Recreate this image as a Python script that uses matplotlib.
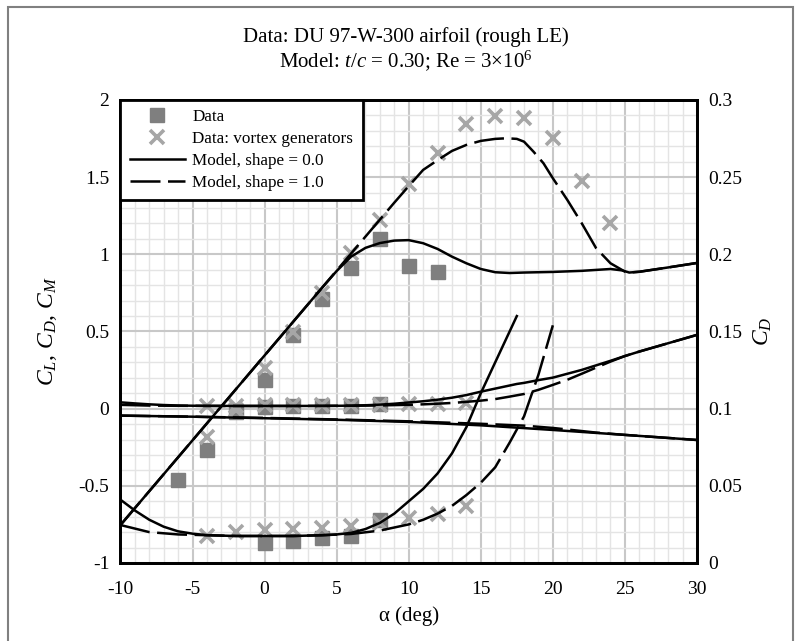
import matplotlib.pyplot as plt
from matplotlib.ticker import MultipleLocator, FixedLocator, FixedFormatter
from matplotlib.patches import Rectangle

plt.rcParams['font.family'] = ['Liberation Serif', 'DejaVu Serif']
plt.rcParams['mathtext.fontset'] = 'custom'
plt.rcParams['mathtext.rm'] = 'Liberation Serif'
plt.rcParams['mathtext.it'] = 'Liberation Serif:italic'
plt.rcParams['axes.unicode_minus'] = False

# measured data (rough LE)
a_data = [-6, -4, -2, 0, 2, 4, 6, 8, 10, 12]
cl_data = [-0.46, -0.27, -0.02, 0.185, 0.477, 0.709, 0.914, 1.098, 0.925, 0.888]
a_cd_data = [0, 2, 4, 6, 8]
cd_data = [0.0132, 0.0145, 0.0160, 0.0177, 0.0279]

# measured data with vortex generators
a_vg = [-4, -2, 0, 2, 4, 6, 8, 10, 12, 14, 16, 18, 20, 22, 24]
cl_vg = [-0.186, -0.01, 0.262, 0.499, 0.748, 1.011, 1.222, 1.454, 1.655, 1.843,
         1.899, 1.882, 1.752, 1.476, 1.202]
a_cd_vg = [-4, -2, 0, 2, 4, 6, 8, 10, 12, 14]
cd_vg = [0.0175, 0.0199, 0.0214, 0.0218, 0.0225, 0.0240, 0.0262, 0.0292, 0.0317, 0.0369]

# model, shape = 0.0
a_cl0 = [-10, -5, 0, 4, 5, 6, 7, 8, 9, 10, 11, 12, 13, 14, 15, 16, 17, 18, 20,
         22, 24, 24.8, 25.3, 26, 28, 30]
cl0 = [-0.754, -0.205, 0.345, 0.785, 0.892, 0.985, 1.042, 1.073, 1.089, 1.092,
       1.072, 1.035, 0.985, 0.942, 0.905, 0.884, 0.879, 0.882, 0.886, 0.893,
       0.905, 0.896, 0.882, 0.887, 0.915, 0.944]
a_cd0 = [-10, -9, -8, -7, -6, -5, -4, -2, 0, 2, 4, 5, 6, 7, 8, 9, 10, 11, 12,
         13, 14, 15, 16, 17, 17.5, 18, 19, 20, 22, 24, 25, 26, 28, 30]
cd0 = [0.041, 0.034, 0.028, 0.0235, 0.0205, 0.019, 0.018, 0.0175, 0.0175,
       0.0175, 0.018, 0.0185, 0.0195, 0.022, 0.026, 0.032, 0.040, 0.048, 0.058,
       0.071, 0.088, 0.110, 0.130, 0.150, 0.160, 0.167, 0.185, 0.201, 0.251,
       0.310, 0.341, 0.370, 0.424, 0.478]
a_cm0 = [-10, -5, 0, 5, 10, 15, 20, 25, 30]
cm0 = [-0.045, -0.052, -0.062, -0.072, -0.086, -0.108, -0.138, -0.170, -0.203]

# model, shape = 1.0
a_cl1 = [-10, -5, 0, 5, 8, 9, 10, 11, 12, 13, 14, 15, 16, 16.8, 17.5, 18, 18.65,
         19.35, 20, 21, 22, 23, 24, 25, 25.3, 26, 28, 30]
cl1 = [-0.754, -0.205, 0.345, 0.895, 1.225, 1.335, 1.442, 1.547, 1.61, 1.67,
       1.709, 1.735, 1.748, 1.752, 1.748, 1.73, 1.666, 1.59, 1.493, 1.353,
       1.202, 1.04, 0.942, 0.888, 0.882, 0.887, 0.915, 0.944]
a_cd1 = [-10, -8, -6, -4, -2, 0, 2, 4, 6, 8, 10, 11, 12, 13, 14, 15, 16, 17,
         18, 19, 20, 21, 22, 23, 24, 25, 26, 28, 30]
cd1 = [0.0246, 0.020, 0.0185, 0.018, 0.0175, 0.0175, 0.0175, 0.018, 0.0188,
       0.021, 0.025, 0.028, 0.032, 0.037, 0.044, 0.052, 0.062, 0.078, 0.095,
       0.122, 0.154, 0.187, 0.226, 0.266, 0.305, 0.341, 0.370, 0.424, 0.478]
a_cm1 = [-10, -5, 0, 5, 10, 15, 18, 20, 22, 23, 25, 30]
cm1 = [-0.045, -0.052, -0.060, -0.070, -0.082, -0.098, -0.110, -0.125, -0.145,
       -0.155, -0.170, -0.203]

# range of the zoomed-in drag curves on the right axis
a_cd0_max = 17.5
a_cd1_max = 20

fig = plt.figure(figsize=(7.99, 6.41), dpi=100)
ax = fig.add_axes([0.1508, 0.1217, 0.7215, 0.7223])
ax2 = ax.twinx()

sq = dict(marker='s', ms=9.5, color='#7f7f7f', ls='none')
xx = dict(marker='x', ms=10.5, mew=2.6, color='#a6a6a6', ls='none')
dash = (0, (12, 3))
lw = 1.8

ax.plot(a_data, cl_data, **sq)
ax.plot(a_cd_data, cd_data, **sq)
ax.plot(a_vg, cl_vg, **xx)
ax.plot(a_cd_vg, cd_vg, **xx)
ax2.plot(a_cd_data, cd_data, **sq)
ax2.plot(a_cd_vg, cd_vg, **xx)

ax.plot(a_cl0, cl0, color='k', lw=lw)
ax.plot(a_cd0, cd0, color='k', lw=lw)
ax.plot(a_cm0, cm0, color='k', lw=lw)
ax.plot(a_cl1, cl1, color='k', lw=lw, ls=dash)
ax.plot(a_cd1, cd1, color='k', lw=lw, ls=dash)
ax.plot(a_cm1, cm1, color='k', lw=lw, ls=dash)

n0 = sum(1 for a in a_cd0 if a <= a_cd0_max)
n1 = sum(1 for a in a_cd1 if a <= a_cd1_max)
ax2.plot(a_cd0[:n0], cd0[:n0], color='k', lw=lw)
ax2.plot(a_cd1[:n1], cd1[:n1], color='k', lw=lw, ls=dash)

ax.set_xlim(-10, 30)
ax.set_ylim(-1, 2)
ax2.set_ylim(0, 0.3)

xt = [-10, -5, 0, 5, 10, 15, 20, 25, 30]
yt = [-1, -0.5, 0, 0.5, 1, 1.5, 2]
y2t = [0, 0.05, 0.1, 0.15, 0.2, 0.25, 0.3]
ax.xaxis.set_major_locator(FixedLocator(xt))
ax.xaxis.set_major_formatter(FixedFormatter(['-10', '-5', '0', '5', '10', '15', '20', '25', '30']))
ax.yaxis.set_major_locator(FixedLocator(yt))
ax.yaxis.set_major_formatter(FixedFormatter(['-1', '-0.5', '0', '0.5', '1', '1.5', '2']))
ax2.yaxis.set_major_locator(FixedLocator(y2t))
ax2.yaxis.set_major_formatter(FixedFormatter(['0', '0.05', '0.1', '0.15', '0.2', '0.25', '0.3']))
ax.xaxis.set_minor_locator(MultipleLocator(1))
ax.yaxis.set_minor_locator(MultipleLocator(0.1))

ax.grid(True, which='major', color='#c8c8c8', lw=1.5)
ax.grid(True, which='minor', color='#e4e4e4', lw=1.0)
ax.set_axisbelow(True)

for a in (ax, ax2):
    a.tick_params(which='both', length=0, labelsize=14, pad=8)
    for s in a.spines.values():
        s.set_linewidth(2)
        s.set_color('k')
ax.tick_params(axis='x', pad=13)

ax.set_xlabel('α (deg)', fontsize=15, labelpad=6)
ax.set_ylabel('$C_L$, $C_D$, $C_M$', fontsize=17, labelpad=14)
ax2.set_ylabel('$C_D$', fontsize=17, labelpad=7)

fig.text(0.508, 1 - 37 / 641, 'Data: DU 97-W-300 airfoil (rough LE)',
         ha='center', va='center', fontsize=15)
fig.text(0.508, 1 - 61 / 641, 'Model: $t/c$ = 0.30; Re = 3×10$^6$',
         ha='center', va='center', fontsize=15)

h = [plt.Line2D([], [], **sq), plt.Line2D([], [], **xx),
     plt.Line2D([], [], color='k', lw=lw),
     plt.Line2D([], [], color='k', lw=lw, ls=dash)]
labels = ['Data', 'Data: vortex generators', 'Model, shape = 0.0', 'Model, shape = 1.0']
leg = ax2.legend(h, labels, loc='upper left', bbox_to_anchor=(0, 1),
                 borderaxespad=0, fancybox=False, framealpha=1,
                 fontsize=12.3, handlelength=3.2, labelspacing=0.34,
                 handletextpad=0.45, borderpad=0.55)
leg.get_frame().set_edgecolor('k')
leg.get_frame().set_linewidth(2)

fig.patches.append(Rectangle((8 / 799, -0.05), 785 / 799, 1.05 - 7 / 641,
                             transform=fig.transFigure, fill=False,
                             edgecolor='#808080', lw=1.5))

fig.savefig('out.png', dpi=100)
